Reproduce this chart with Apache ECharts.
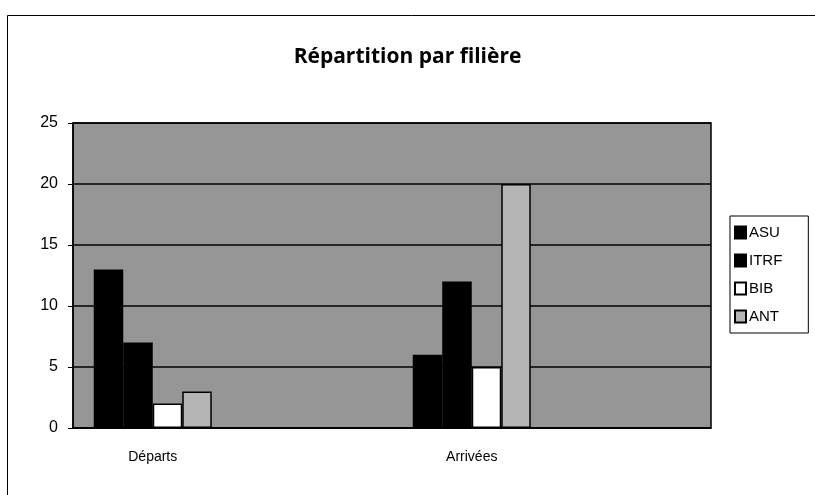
<!DOCTYPE html>
<html lang="fr">
<head>
    <meta charset="UTF-8">
    <title>Répartition par filière</title>
    <script src="https://cdn.jsdelivr.net/npm/echarts@6/dist/echarts.min.js"></script>
    <style>
        body { margin: 0; background: #fff; }
    </style>
</head>
<body>
<div id="main" style="width: 815px;height:495px;"></div>
<script type="text/javascript">
    // slots 2 and 4 are empty categories in the original sheet
    var categories = ['Départs', '', 'Arrivées', ''];
    var asu  = [13, '-', 6, '-'];
    var itrf = [7, '-', 12, '-'];
    var bib  = [2, '-', 5, '-'];
    var ant  = [3, '-', 20, '-'];

    var myChart = echarts.init(document.getElementById('main'));
    var font = 'Liberation Sans, Arial, sans-serif';

    function bar(name, data, fill) {
        return {
            name: name,
            type: 'bar',
            data: data,
            barGap: 0,
            barCategoryGap: '26%',
            itemStyle: { color: fill, borderColor: '#000', borderWidth: 1.5 }
        };
    }

    option = {
        animation: false,
        title: {
            text: 'Répartition par filière',
            left: 'center',
            top: 42,
            textStyle: { fontFamily: 'Open Sans, sans-serif', fontWeight: 'bold', fontSize: 21, color: '#000' }
        },
        legend: {
            orient: 'vertical',
            left: 730,
            top: 216,
            itemWidth: 11,
            itemHeight: 12,
            itemGap: 13,
            padding: [9, 26, 9, 4],
            borderColor: '#000',
            borderWidth: 1,
            icon: 'rect',
            textStyle: { fontFamily: font, fontSize: 15, color: '#000', padding: [0, 0, 0, -2] },
            data: ['ASU', 'ITRF', 'BIB', 'ANT']
        },
        grid: {
            left: 73, right: 104, top: 123, bottom: 67,
            show: true,
            backgroundColor: '#969696',
            borderColor: '#000',
            borderWidth: 1.5
        },
        xAxis: {
            type: 'category',
            data: categories,
            axisLine: { lineStyle: { color: '#000', width: 1.5 } },
            axisTick: { length: 5, lineStyle: { color: '#000' } },
            axisLabel: { fontFamily: font, fontSize: 14, color: '#000', margin: 22 }
        },
        yAxis: {
            type: 'value',
            min: 0, max: 25, interval: 5,
            axisLine: { show: true, lineStyle: { color: '#000', width: 1.5 } },
            axisTick: { show: true, length: 5, lineStyle: { color: '#000' } },
            axisLabel: { fontFamily: font, fontSize: 16, color: '#000', margin: 15 },
            splitLine: { lineStyle: { color: '#000', width: 1.5 } }
        },
        graphic: [{
            type: 'rect',
            shape: { x: 7.5, y: 15.5, width: 900, height: 600 },
            style: { fill: 'none', stroke: '#000', lineWidth: 1 },
            silent: true
        }],
        series: [
            bar('ASU', asu, '#000'),
            bar('ITRF', itrf, '#000'),
            bar('BIB', bib, '#fff'),
            bar('ANT', ant, '#b5b5b5')
        ]
    };
    myChart.setOption(option);
</script>
</body>
</html>
